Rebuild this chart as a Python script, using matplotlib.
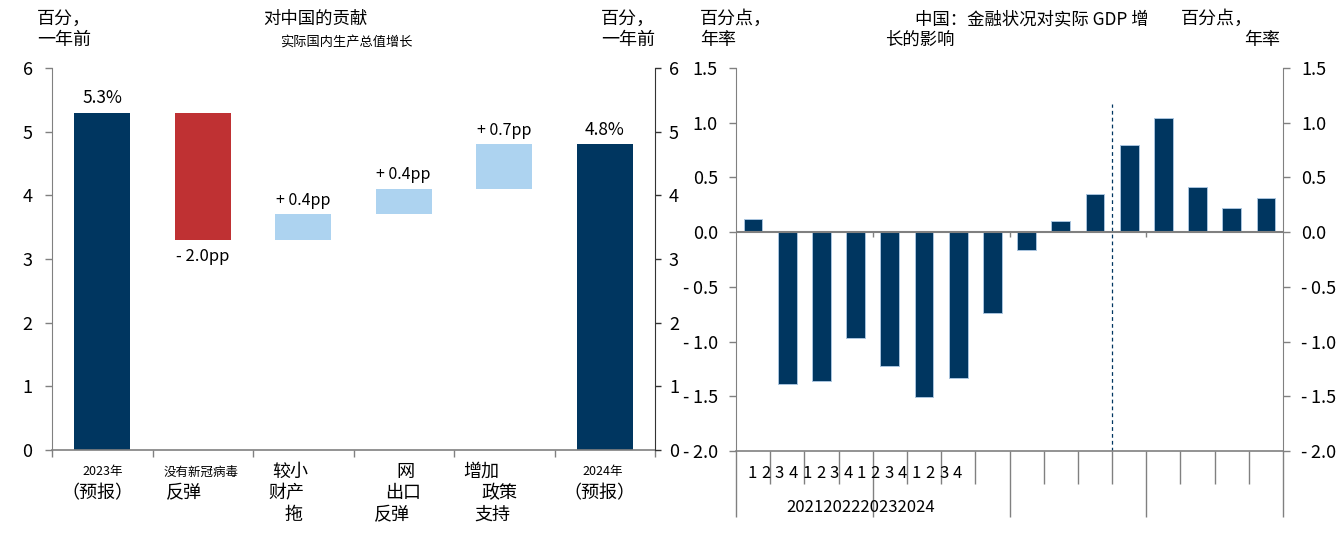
import numpy as np
import matplotlib
matplotlib.use('Agg')
import matplotlib.pyplot as plt

plt.rcParams['font.family'] = ['Noto Sans CJK SC', 'DejaVu Sans']

# 左图：瀑布图数据
wf_labels = [['2023年', '（预报）'], ['没有新冠病毒', '反弹'], ['较小', '财产', '拖'],
             ['网', '出口', '反弹'], ['增加', '政策', '支持'], ['2024年', '（预报）']]
wf_bottom = [0, 3.3, 3.3, 3.7, 4.1, 0]
wf_top = [5.3, 5.3, 3.7, 4.1, 4.8, 4.8]
wf_text = ['5.3%', '- 2.0pp', '+ 0.4pp', '+ 0.4pp', '+ 0.7pp', '4.8%']
wf_kind = ['total', 'neg', 'pos', 'pos', 'pos', 'total']

# 右图：金融状况影响
quarters = ['1', '2', '3', '4'] * 4
years = ['2021', '2022', '2023', '2024']
fci_impact = [0.12, -1.39, -1.36, -0.97, -1.22, -1.51, -1.33, -0.74,
              -0.16, 0.10, 0.35, 0.80, 1.04, 0.41, 0.22, 0.31]

NAVY = '#003660'
RED = '#BF3133'
LIGHT = '#ADD3F0'
GREY = '#808080'
colors = {'total': NAVY, 'neg': RED, 'pos': LIGHT}

W, H = 1340, 542
fig = plt.figure(figsize=(W / 100, H / 100), dpi=100)


def fx(px):
    return px / W


def fy(py):
    return 1 - py / H


# ---------- 左图 ----------
ax1 = fig.add_axes([fx(52), fy(450), fx(655 - 52), (450 - 68) / H])
x1 = np.arange(len(wf_top))
heights = np.array(wf_top) - np.array(wf_bottom)
ax1.bar(x1, heights, bottom=wf_bottom, width=0.56,
        color=[colors[k] for k in wf_kind], linewidth=0)
ax1.set_xlim(-0.5, len(wf_top) - 0.5)
ax1.set_ylim(0, 6)
ax1.set_yticks(range(0, 7))
ax1.set_xticks(np.arange(-0.5, len(wf_top), 1.0))
ax1.set_xticklabels([])
ax1.tick_params(axis='x', length=5, color=GREY, width=1)
ax1.tick_params(axis='y', length=5, color=GREY, width=1, labelsize=13, pad=9)
for s in ['top', 'right']:
    ax1.spines[s].set_visible(False)
ax1.spines['left'].set_color(GREY)
ax1.spines['bottom'].set_color(GREY)
ax1.spines['bottom'].set_linewidth(1.2)

ax1r = ax1.twinx()
ax1r.set_ylim(0, 6)
ax1r.set_yticks(range(0, 7))
ax1r.tick_params(axis='y', length=4, color='#333333', width=1, labelsize=13, pad=6)
for s in ['top', 'left', 'bottom']:
    ax1r.spines[s].set_visible(False)
ax1r.spines['right'].set_color('#333333')

for i, (b, t, txt, k) in enumerate(zip(wf_bottom, wf_top, wf_text, wf_kind)):
    if k == 'neg':
        ax1.annotate(txt, (i, b), xytext=(0, -6), textcoords='offset points',
                     ha='center', va='top', fontsize=12)
    else:
        ax1.annotate(txt, (i, t), xytext=(0, 4), textcoords='offset points',
                     ha='center', va='bottom', fontsize=12.5 if k == 'total' else 11.5)

# x 轴标签（逐行，位置按原图微调）
line_y = [472, 493, 515]
line_dx = [[0, -5], [-2, -37], [-31, -35, -19], [-7, -19, -30], [-41, -23, -30], [-2, -5]]
for i, lines in enumerate(wf_labels):
    for j, s in enumerate(lines):
        small = s.startswith('20') or s == '没有新冠病毒'
        left = (i in (2, 3, 4)) or (i == 1 and j == 1)
        xpix = 52 + (i + 0.5) * (603 / 6) + line_dx[i][j]
        fig.text(fx(xpix), fy(line_y[j]), s, ha='left' if left else 'center',
                 va='center', fontsize=9 if small else 13)

fig.text(fx(37), fy(19), '百分，', fontsize=13, va='center', ha='left')
fig.text(fx(37), fy(40), '一年前', fontsize=13, va='center', ha='left')
fig.text(fx(263), fy(19), '对中国的贡献', fontsize=12.5, va='center', ha='left')
fig.text(fx(280), fy(42), '实际国内生产总值增长', fontsize=9.5, va='center', ha='left')
fig.text(fx(601), fy(19), '百分，', fontsize=13, va='center', ha='left')
fig.text(fx(601), fy(40), '一年前', fontsize=13, va='center', ha='left')

# ---------- 右图 ----------
ax2 = fig.add_axes([fx(736), fy(451), fx(1283 - 736), (451 - 68) / H])
x2 = np.arange(len(fci_impact))
ax2.bar(x2, fci_impact, width=0.55, color=NAVY, edgecolor='#A9C4DE', linewidth=0.7)
ax2.axhline(0, color=GREY, lw=1.5, zorder=3)
ax2.set_xlim(-0.5, len(fci_impact) - 0.5)
ax2.set_ylim(-2.0, 1.5)
yt = np.arange(-2.0, 1.51, 0.5)
ylab = [('-\u2009%.1f' % abs(v)) if v < -1e-9 else '%.1f' % abs(v) for v in yt]
ax2.set_yticks(yt)
ax2.set_yticklabels(ylab)
ax2.tick_params(axis='y', length=5, color=GREY, width=1, labelsize=13, pad=8)
ax2.set_xticks(np.arange(-0.5, len(fci_impact), 4.0))
ax2.set_xticks(np.arange(-0.5, len(fci_impact), 1.0), minor=True)
ax2.set_xticklabels([])
ax2.tick_params(axis='x', which='major', length=47.5, color=GREY, width=1)
ax2.tick_params(axis='x', which='minor', length=23.8, color=GREY, width=1)
for s in ['top', 'right']:
    ax2.spines[s].set_visible(False)
ax2.spines['left'].set_color(GREY)
ax2.spines['bottom'].set_color(GREY)
ax2.spines['bottom'].set_linewidth(1.2)
# 零线上的年分隔小刻度
ax2.vlines(np.arange(3.5, len(fci_impact) - 1, 4.0), -0.04, 0, color=GREY, lw=1, zorder=3)
# 预测分隔线
ax2.vlines(10.5, -2.0, 1.17, color=NAVY, lw=0.9, linestyles=(0, (3, 2.5)), zorder=2)

ax2r = ax2.twinx()
ax2r.set_ylim(-2.0, 1.5)
ax2r.set_yticks(yt)
ax2r.set_yticklabels(ylab)
ax2r.tick_params(axis='y', length=5, color=GREY, width=1, labelsize=13, pad=8)
for s in ['top', 'left', 'bottom']:
    ax2r.spines[s].set_visible(False)
ax2r.spines['right'].set_color(GREY)

# 原图中挤在一起的季度与年份标签
for i, q in enumerate(quarters):
    fig.text(fx(752 + i * 13.7), fy(473), q, ha='center', va='center', fontsize=12)
fig.text(fx(861), fy(507), ''.join(years), ha='center', va='center', fontsize=12)

fig.text(fx(700), fy(19), '百分点，', fontsize=13, va='center', ha='left')
fig.text(fx(700), fy(40), '年率', fontsize=13, va='center', ha='left')
fig.text(fx(915), fy(19), '中国：金融状况对实际 GDP 增', fontsize=12.5, va='center', ha='left')
fig.text(fx(885), fy(40), '长的影响', fontsize=12.5, va='center', ha='left')
fig.text(fx(1181), fy(19), '百分点，', fontsize=13, va='center', ha='left')
fig.text(fx(1280), fy(40), '年率', fontsize=13, va='center', ha='right')

fig.savefig('out.png', dpi=100)
